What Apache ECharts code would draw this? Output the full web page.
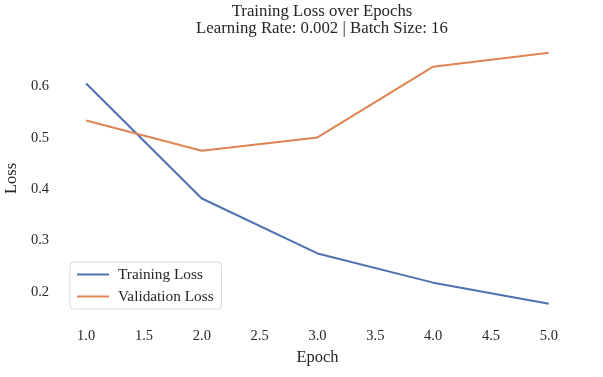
<!DOCTYPE html>
<html>
<head>
<meta charset="utf-8">
<script src="https://cdn.jsdelivr.net/npm/echarts@6/dist/echarts.min.js"></script>
<style>
  html, body { margin: 0; padding: 0; background: #fff; }
  #chart { width: 603px; height: 377px; }
</style>
</head>
<body>
<div id="chart"></div>
<script>
// values
var epochs = [1, 2, 3, 4, 5];
var trainLoss = [0.606, 0.382, 0.275, 0.218, 0.177];
var valLoss = [0.534, 0.475, 0.501, 0.639, 0.666];
var xTicks = [1.0, 1.5, 2.0, 2.5, 3.0, 3.5, 4.0, 4.5, 5.0];
var yTicks = [0.2, 0.3, 0.4, 0.5, 0.6];

var font = '"Liberation Serif", "DejaVu Serif", serif';

function pairs(xs, ys) {
	return xs.map(function (x, i) { return [x, ys[i]]; });
}

var chart = echarts.init(document.getElementById('chart'));
chart.setOption({
	backgroundColor: '#ffffff',
	animation: false,
	title: {
		text: 'Training Loss over Epochs\nLearning Rate: 0.002 | Batch Size: 16',
		left: 317,
		textAlign: 'center',
		top: -2,
		textStyle: { fontFamily: font, fontSize: 16.8, fontWeight: 'normal', color: '#262626', lineHeight: 17, align: 'center' }
	},
	grid: { left: 63, right: 31, top: 41, bottom: 61, outerBoundsMode: 'none', containLabel: false },
	legend: {
		orient: 'vertical',
		left: 70,
		top: 262,
		padding: [5, 8, 5, 7],
		itemGap: 7,
		itemWidth: 32,
		itemHeight: 2,
		icon: 'rect',
		backgroundColor: '#ffffff',
		borderColor: '#d8d8d8',
		borderWidth: 1,
		borderRadius: 4,
		textStyle: { fontFamily: font, fontSize: 15.3, color: '#262626', padding: [0, 0, 0, 4] },
		data: ['Training Loss', 'Validation Loss']
	},
	xAxis: {
		type: 'value',
		min: 0.8,
		max: 5.2,
		name: 'Epoch',
		nameLocation: 'middle',
		nameGap: 31,
		nameTextStyle: { fontFamily: font, fontSize: 16.5, color: '#262626' },
		axisLine: { show: false },
		axisTick: { show: false },
		splitLine: { show: false },
		axisLabel: {
			customValues: xTicks,
			formatter: function (v) { return v.toFixed(1); },
			fontFamily: font, fontSize: 14.5, color: '#262626', margin: 13
		}
	},
	yAxis: {
		type: 'value',
		min: 0.153,
		max: 0.689,
		name: 'Loss',
		nameLocation: 'middle',
		nameGap: 37,
		nameTextStyle: { fontFamily: font, fontSize: 16.5, color: '#262626' },
		axisLine: { show: false },
		axisTick: { show: false },
		splitLine: { show: false },
		axisLabel: {
			customValues: yTicks,
			formatter: function (v) { return v.toFixed(1); },
			fontFamily: font, fontSize: 14.5, color: '#262626', margin: 14
		}
	},
	series: [
		{
			name: 'Training Loss',
			type: 'line',
			data: pairs(epochs, trainLoss),
			showSymbol: false,
			symbol: 'none',
			color: '#4c72b0',
			lineStyle: { width: 2, color: '#4c72b0' }
		},
		{
			name: 'Validation Loss',
			type: 'line',
			data: pairs(epochs, valLoss),
			showSymbol: false,
			symbol: 'none',
			color: '#dd8452',
			lineStyle: { width: 2, color: '#dd8452' }
		}
	]
});
</script>
</body>
</html>
